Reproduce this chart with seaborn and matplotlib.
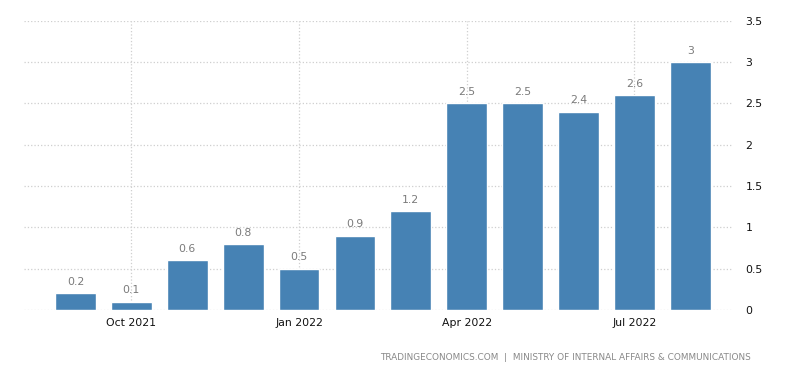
import matplotlib
matplotlib.use("Agg")
import matplotlib.pyplot as plt
import seaborn as sns
import pandas as pd

# monthly values, Sep 2021 .. Aug 2022
months = ["Sep 2021", "Oct 2021", "Nov 2021", "Dec 2021", "Jan 2022", "Feb 2022",
          "Mar 2022", "Apr 2022", "May 2022", "Jun 2022", "Jul 2022", "Aug 2022"]
values = [0.2, 0.1, 0.6, 0.8, 0.5, 0.9, 1.2, 2.5, 2.5, 2.4, 2.6, 3.0]
tick_months = ["Oct 2021", "Jan 2022", "Apr 2022", "Jul 2022"]
y_ticks = [0, 0.5, 1, 1.5, 2, 2.5, 3, 3.5]
y_labels = ["0", "0.5", "1", "1.5", "2", "2.5", "3", "3.5"]
source = "TRADINGECONOMICS.COM  |  MINISTRY OF INTERNAL AFFAIRS & COMMUNICATIONS"

sns.set_theme(style="white")
plt.rcParams["font.family"] = ["DejaVu Sans"]

df = pd.DataFrame({"month": months, "value": values})

fig = plt.figure(figsize=(8, 3.73), dpi=100)
ax = fig.add_axes([0.03, 0.169, 0.886, 0.775])

sns.barplot(data=df, x="month", y="value", color="#4682b4", saturation=1,
            width=0.73, ax=ax, zorder=3)

for i, v in enumerate(values):
    ax.annotate(f"{v:g}", (i, v), xytext=(0, 4.5), textcoords="offset points",
                ha="center", va="bottom", fontsize=7.8, color="#7a7a7a")

ax.set_xlim(-0.92, 11.76)
ax.set_ylim(0, 3.5)

pos = [months.index(m) for m in tick_months]
ax.set_xticks(pos)
ax.set_xticklabels(tick_months, fontsize=7.8, color="#111111")
ax.yaxis.tick_right()
ax.set_yticks(y_ticks)
ax.set_yticklabels(y_labels, fontsize=7.8, color="#111111")
ax.tick_params(axis="both", length=0, pad=6)
ax.tick_params(axis="y", pad=9)
for lab in ax.get_yticklabels():
    lab.set_horizontalalignment("left")

ax.grid(True, linestyle=":", color="#cfcfcf", linewidth=0.9, zorder=0)
ax.set_axisbelow(True)
for s in ax.spines.values():
    s.set_visible(False)
ax.set_xlabel("")
ax.set_ylabel("")

fig.text(0.938, 0.042, source, ha="right", va="center", fontsize=6.4, color="#888888")

fig.savefig("out.png", dpi=100)
